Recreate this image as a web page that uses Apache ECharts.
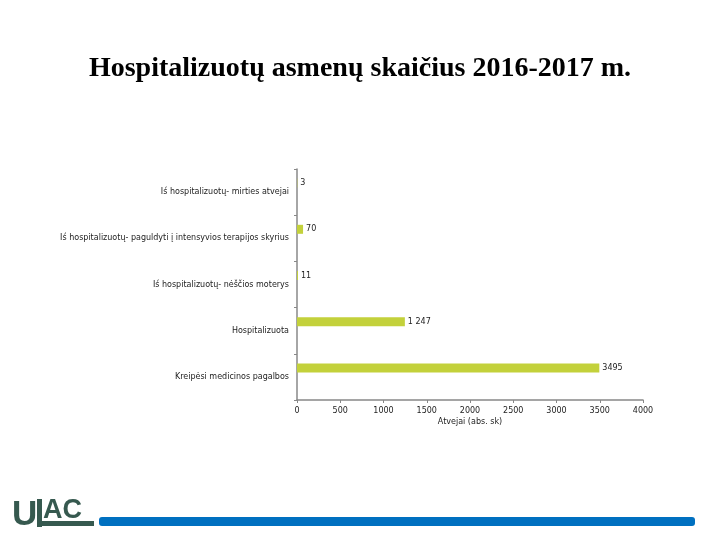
<!DOCTYPE html>
<html><head><meta charset="utf-8">
<script src="https://cdn.jsdelivr.net/npm/echarts@6/dist/echarts.min.js"></script>
<style>html,body{margin:0;padding:0;background:#fff}#c{width:720px;height:540px}</style>
</head><body><div id="c"></div>
<script>
const categories = [
  'Iś hospitalizuotų- mirties atvejai',
  'Iś hospitalizuotų- paguldyti į intensyvios terapijos skyrius',
  'Iś hospitalizuotų- nėščios moterys',
  'Hospitalizuota',
  'Kreipėsi medicinos pagalbos'
];
const values = [3, 70, 11, 1247, 3495];
const valueLabels = ['3', '70', '11', '1 247', '3495'];
const emptySeries = [null, null, null, null, null];
const xTicks = [0, 500, 1000, 1500, 2000, 2500, 3000, 3500, 4000];

const chart = echarts.init(document.getElementById('c'));
chart.setOption({
  animation: false,
  title: {
    text: 'Hospitalizuotų asmenų skaičius 2016-2017 m.',
    left: 'center', top: 50,
    textStyle: {fontFamily: 'Liberation Serif', fontWeight: 'bold', fontSize: 28, color: '#000'}
  },
  grid: {left: 297, right: 77, top: 169, bottom: 140},
  xAxis: {
    type: 'value', min: xTicks[0], max: xTicks[xTicks.length - 1], interval: 500,
    name: 'Atvejai (abs. sk)', nameLocation: 'middle', nameGap: 18,
    nameTextStyle: {fontFamily: 'DejaVu Sans', fontSize: 8, color: '#222'},
    axisLine: {show: true, lineStyle: {color: '#888', width: 1.5}},
    axisTick: {show: true, length: 3, lineStyle: {color: '#888'}},
    axisLabel: {fontFamily: 'DejaVu Sans', fontSize: 8, color: '#222', margin: 7, formatter: v => String(v)},
    splitLine: {show: false}
  },
  yAxis: {
    type: 'category', data: categories, inverse: true,
    axisLine: {show: true, lineStyle: {color: '#888', width: 1.5}},
    axisTick: {show: true, length: 3, lineStyle: {color: '#888'}},
    axisLabel: {fontFamily: 'DejaVu Sans', fontSize: 8, color: '#222', margin: 8}
  },
  series: [
    {
      type: 'bar', data: values, barWidth: 9, barGap: '100%',
      itemStyle: {color: '#c3d13b'},
      label: {
        show: true, position: 'right', distance: 3,
        fontFamily: 'DejaVu Sans', fontSize: 8, color: '#222',
        formatter: p => valueLabels[p.dataIndex]
      }
    },
    {type: 'bar', data: emptySeries, barWidth: 9, itemStyle: {color: 'transparent'}}
  ],
  graphic: [
    {type: 'text', left: 12, top: 498, style: {text: 'U', font: 'bold 35px "Liberation Sans Narrow", "Liberation Sans"', fill: '#36594f'}},
    {type: 'rect', left: 37, top: 499, shape: {width: 5, height: 28}, style: {fill: '#36594f'}},
    {type: 'text', left: 43, top: 497, style: {text: 'AC', font: 'bold 27px "Liberation Sans Narrow", "Liberation Sans"', fill: '#36594f'}},
    {type: 'rect', left: 37, top: 521, shape: {width: 57, height: 5}, style: {fill: '#36594f'}},
    {type: 'rect', left: 99, top: 517, shape: {width: 596, height: 9, r: 3}, style: {fill: '#0070c0'}}
  ]
});
</script></body></html>
